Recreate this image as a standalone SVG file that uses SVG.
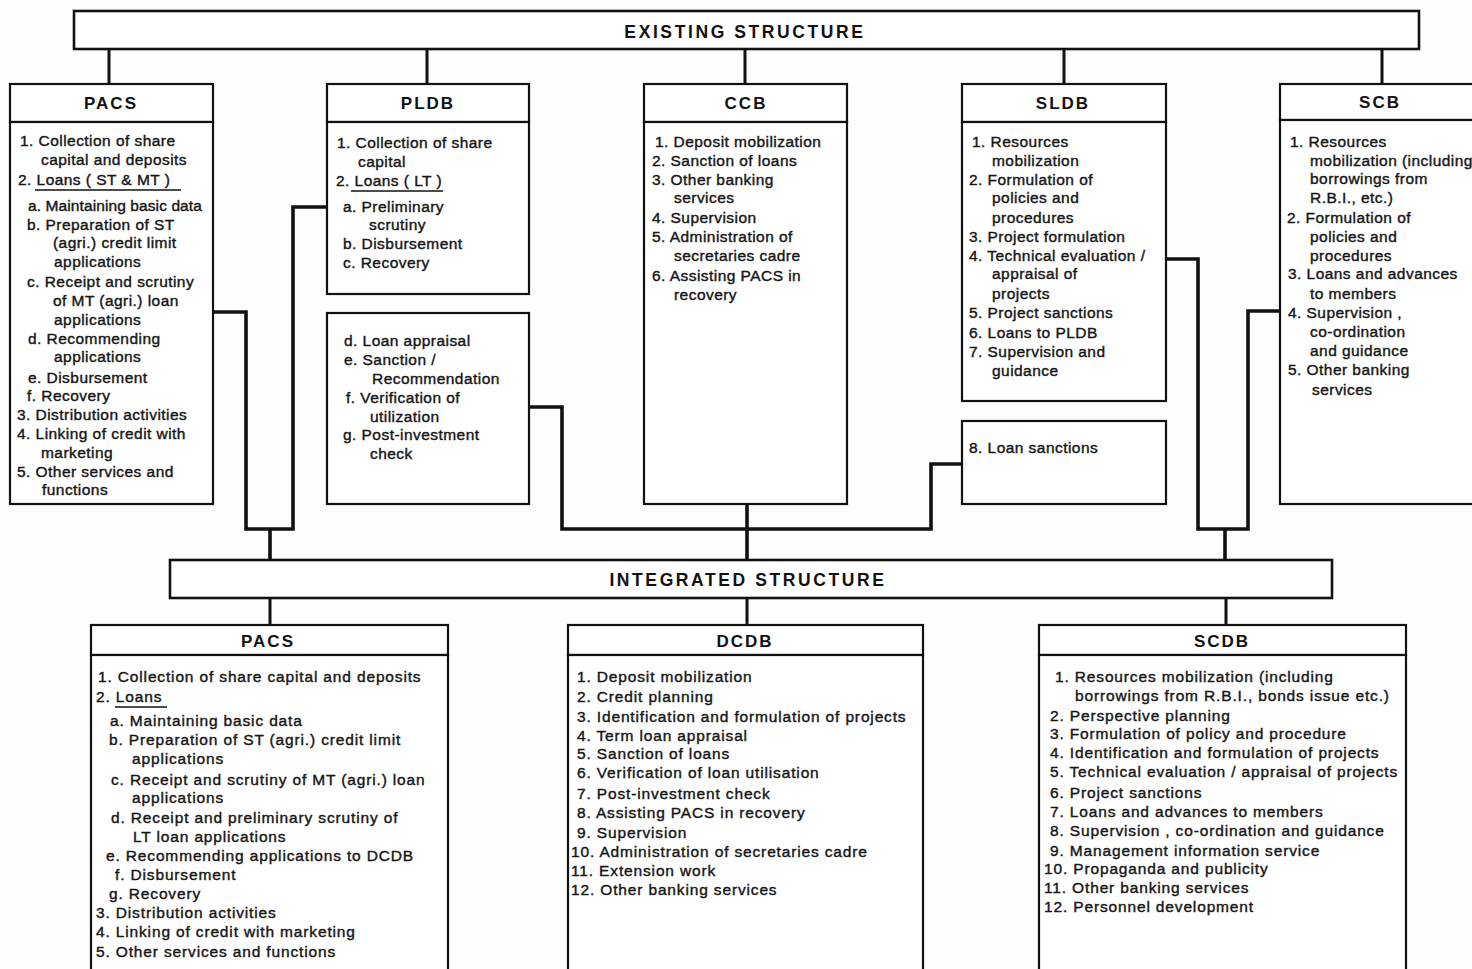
<svg xmlns="http://www.w3.org/2000/svg" width="1472" height="969" viewBox="0 0 1472 969">
<style>
.bg{fill:#fdfdfd}
.box{fill:#fff;stroke:#111;stroke-width:2.2}
.ban{fill:#fff;stroke:#111;stroke-width:2.6}
.conn{fill:none;stroke:#111;stroke-width:3.6;stroke-linejoin:miter}
.stub{fill:none;stroke:#111;stroke-width:3}
.t{font-family:"Liberation Sans",Arial,sans-serif;font-size:15.5px;fill:#161616;stroke:#161616;stroke-width:0.4;letter-spacing:0.45px}
.tb{letter-spacing:0.85px}
.tn{letter-spacing:0.1px}
.h{font-family:"Liberation Sans",Arial,sans-serif;font-size:17px;font-weight:bold;fill:#111;letter-spacing:2px;text-anchor:middle}
.bt{font-family:"Liberation Sans",Arial,sans-serif;font-size:17.5px;font-weight:bold;fill:#111;letter-spacing:2.6px;text-anchor:middle}
.ul{stroke:#111;stroke-width:1.6}
</style>
<rect class="bg" x="0" y="0" width="1472" height="969"/>

<g id="connectors">
  <path class="stub" d="M109,49 V84 M427,49 V84 M745,49 V84 M1064,49 V84 M1382,49 V84"/>
  <path class="conn" d="M213,312 H246 V529 H293 V207 H327"/>
  <path class="conn" d="M270,529 V560"/>
  <path class="conn" d="M529,407 H562 V529 H931 V464 H962"/>
  <path class="conn" d="M747,504 V560"/>
  <path class="conn" d="M1166,259 H1198 V529 H1248 V311 H1280"/>
  <path class="conn" d="M1225,529 V560"/>
  <path class="stub" d="M270,598 V625 M747,598 V625 M1226,598 V625"/>
</g>

<g id="existing-structure">
  <rect class="ban" x="74" y="11" width="1345" height="38"/>
  <text class="bt" x="745" y="38">EXISTING STRUCTURE</text>
</g>

<g id="pacs-existing">
  <rect class="box" x="10" y="84" width="203" height="38"/>
  <rect class="box" x="10" y="122" width="203" height="382"/>
  <text class="h" x="111" y="109">PACS</text>
  <text class="t" x="20" y="146">1. Collection of share</text>
  <text class="t" x="41" y="165">capital and deposits</text>
  <text class="t" x="18" y="185">2. Loans  ( ST &amp; MT )</text>
  <line class="ul" x1="35" y1="190" x2="181" y2="190"/>
  <text class="t tn" x="28" y="211">a. Maintaining basic data</text>
  <text class="t" x="27" y="230">b. Preparation of ST</text>
  <text class="t" x="53" y="248">(agri.) credit limit</text>
  <text class="t" x="54" y="267">applications</text>
  <text class="t" x="27" y="287">c. Receipt and scrutiny</text>
  <text class="t" x="53" y="306">of MT (agri.) loan</text>
  <text class="t" x="54" y="325">applications</text>
  <text class="t" x="28" y="344">d. Recommending</text>
  <text class="t" x="54" y="362">applications</text>
  <text class="t" x="28" y="383">e. Disbursement</text>
  <text class="t" x="27" y="401">f. Recovery</text>
  <text class="t" x="17" y="420">3. Distribution activities</text>
  <text class="t" x="17" y="439">4. Linking of credit with</text>
  <text class="t" x="41" y="458">marketing</text>
  <text class="t" x="17" y="477">5. Other services and</text>
  <text class="t" x="42" y="495">functions</text>
</g>

<g id="pldb">
  <rect class="box" x="327" y="84" width="202" height="38"/>
  <rect class="box" x="327" y="122" width="202" height="172"/>
  <text class="h" x="428" y="109">PLDB</text>
  <text class="t" x="337" y="148">1. Collection of share</text>
  <text class="t" x="358" y="167">capital</text>
  <text class="t" x="336" y="186">2. Loans  ( LT )</text>
  <line class="ul" x1="351" y1="191" x2="443" y2="191"/>
  <text class="t" x="343" y="212">a. Preliminary</text>
  <text class="t" x="369" y="230">scrutiny</text>
  <text class="t" x="343" y="249">b. Disbursement</text>
  <text class="t" x="343" y="268">c. Recovery</text>
</g>

<g id="pldb-lower">
  <rect class="box" x="327" y="313" width="202" height="191"/>
  <text class="t" x="344" y="346">d. Loan appraisal</text>
  <text class="t" x="344" y="365">e. Sanction /</text>
  <text class="t" x="372" y="384">Recommendation</text>
  <text class="t" x="346" y="403">f. Verification of</text>
  <text class="t" x="370" y="422">utilization</text>
  <text class="t" x="343" y="440">g. Post-investment</text>
  <text class="t" x="370" y="459">check</text>
</g>

<g id="ccb">
  <rect class="box" x="644" y="84" width="203" height="38"/>
  <rect class="box" x="644" y="122" width="203" height="382"/>
  <text class="h" x="746" y="109">CCB</text>
  <text class="t" x="655" y="147">1. Deposit mobilization</text>
  <text class="t" x="652" y="166">2. Sanction of loans</text>
  <text class="t" x="652" y="185">3. Other banking</text>
  <text class="t" x="674" y="203">services</text>
  <text class="t" x="652" y="223">4. Supervision</text>
  <text class="t" x="652" y="242">5. Administration of</text>
  <text class="t" x="674" y="261">secretaries cadre</text>
  <text class="t" x="652" y="281">6. Assisting PACS in</text>
  <text class="t" x="674" y="300">recovery</text>
</g>

<g id="sldb">
  <rect class="box" x="962" y="84" width="204" height="38"/>
  <rect class="box" x="962" y="122" width="204" height="279"/>
  <text class="h" x="1063" y="109">SLDB</text>
  <text class="t" x="972" y="147">1. Resources</text>
  <text class="t" x="992" y="166">mobilization</text>
  <text class="t" x="969" y="185">2. Formulation of</text>
  <text class="t" x="992" y="203">policies and</text>
  <text class="t" x="992" y="223">procedures</text>
  <text class="t" x="969" y="242">3. Project formulation</text>
  <text class="t" x="969" y="261">4. Technical evaluation /</text>
  <text class="t" x="992" y="279">appraisal of</text>
  <text class="t" x="992" y="299">projects</text>
  <text class="t" x="969" y="318">5. Project sanctions</text>
  <text class="t" x="969" y="338">6. Loans to PLDB</text>
  <text class="t" x="969" y="357">7. Supervision and</text>
  <text class="t" x="992" y="376">guidance</text>
</g>

<g id="sldb-lower">
  <rect class="box" x="962" y="421" width="204" height="83"/>
  <text class="t" x="969" y="453">8. Loan sanctions</text>
</g>

<g id="scb">
  <rect class="box" x="1280" y="84" width="215" height="36"/>
  <rect class="box" x="1280" y="120" width="215" height="384"/>
  <text class="h" x="1380" y="108">SCB</text>
  <text class="t" x="1290" y="147">1. Resources</text>
  <text class="t" x="1310" y="166">mobilization (including</text>
  <text class="t" x="1310" y="184">borrowings from</text>
  <text class="t" x="1310" y="203">R.B.I., etc.)</text>
  <text class="t" x="1287" y="223">2. Formulation of</text>
  <text class="t" x="1310" y="242">policies and</text>
  <text class="t" x="1310" y="261">procedures</text>
  <text class="t" x="1288" y="279">3. Loans and advances</text>
  <text class="t" x="1310" y="299">to members</text>
  <text class="t" x="1288" y="318">4. Supervision ,</text>
  <text class="t" x="1310" y="337">co-ordination</text>
  <text class="t" x="1310" y="356">and guidance</text>
  <text class="t" x="1288" y="375">5. Other banking</text>
  <text class="t" x="1312" y="395">services</text>
</g>

<g id="integrated-structure">
  <rect class="ban" x="170" y="560" width="1162" height="38"/>
  <text class="bt" x="748" y="586">INTEGRATED STRUCTURE</text>
</g>

<g id="pacs-integrated">
  <rect class="box" x="91" y="625" width="357" height="30"/>
  <rect class="box" x="91" y="655" width="357" height="330"/>
  <text class="h" x="268" y="647">PACS</text>
  <text class="t tb" x="98" y="682">1. Collection of share capital and deposits</text>
  <text class="t tb" x="96" y="702">2. Loans</text>
  <line class="ul" x1="115" y1="707" x2="167" y2="707"/>
  <text class="t tb" x="110" y="726">a. Maintaining basic data</text>
  <text class="t tb" x="109" y="745">b. Preparation of ST (agri.) credit limit</text>
  <text class="t tb" x="132" y="764">applications</text>
  <text class="t tb" x="111" y="785">c. Receipt and scrutiny of MT (agri.) loan</text>
  <text class="t tb" x="132" y="803">applications</text>
  <text class="t tb" x="111" y="823">d. Receipt and preliminary scrutiny of</text>
  <text class="t tb" x="133" y="842">LT loan applications</text>
  <text class="t tb" x="106" y="861">e. Recommending applications to DCDB</text>
  <text class="t tb" x="115" y="880">f. Disbursement</text>
  <text class="t tb" x="109" y="899">g. Recovery</text>
  <text class="t tb" x="96" y="918">3. Distribution activities</text>
  <text class="t tb" x="96" y="937">4. Linking of credit with marketing</text>
  <text class="t tb" x="96" y="957">5. Other services and functions</text>
</g>

<g id="dcdb">
  <rect class="box" x="568" y="625" width="355" height="30"/>
  <rect class="box" x="568" y="655" width="355" height="330"/>
  <text class="h" x="745" y="647">DCDB</text>
  <text class="t tb" x="577" y="682">1. Deposit mobilization</text>
  <text class="t tb" x="577" y="702">2. Credit planning</text>
  <text class="t tb" x="577" y="722">3. Identification and formulation of projects</text>
  <text class="t tb" x="577" y="741">4. Term loan appraisal</text>
  <text class="t tb" x="577" y="759">5. Sanction of loans</text>
  <text class="t tb" x="577" y="778">6. Verification of loan utilisation</text>
  <text class="t tb" x="577" y="799">7. Post-investment check</text>
  <text class="t tb" x="577" y="818">8. Assisting PACS in recovery</text>
  <text class="t tb" x="577" y="838">9. Supervision</text>
  <text class="t tb" x="571" y="857">10. Administration of secretaries cadre</text>
  <text class="t tb" x="571" y="876">11. Extension work</text>
  <text class="t tb" x="571" y="895">12. Other banking services</text>
</g>

<g id="scdb">
  <rect class="box" x="1039" y="625" width="367" height="30"/>
  <rect class="box" x="1039" y="655" width="367" height="330"/>
  <text class="h" x="1222" y="647">SCDB</text>
  <text class="t tb" x="1055" y="682">1. Resources mobilization (including</text>
  <text class="t tb" x="1075" y="701">borrowings from R.B.I., bonds issue etc.)</text>
  <text class="t tb" x="1050" y="721">2. Perspective planning</text>
  <text class="t tb" x="1050" y="739">3. Formulation of policy and procedure</text>
  <text class="t tb" x="1050" y="758">4. Identification and formulation of projects</text>
  <text class="t tb" x="1050" y="777">5. Technical evaluation / appraisal of projects</text>
  <text class="t tb" x="1050" y="798">6. Project sanctions</text>
  <text class="t tb" x="1050" y="817">7. Loans and advances to members</text>
  <text class="t tb" x="1050" y="836">8. Supervision , co-ordination and guidance</text>
  <text class="t tb" x="1050" y="856">9. Management information service</text>
  <text class="t tb" x="1044" y="874">10. Propaganda and publicity</text>
  <text class="t tb" x="1044" y="893">11. Other banking services</text>
  <text class="t tb" x="1044" y="912">12. Personnel development</text>
</g>
</svg>
